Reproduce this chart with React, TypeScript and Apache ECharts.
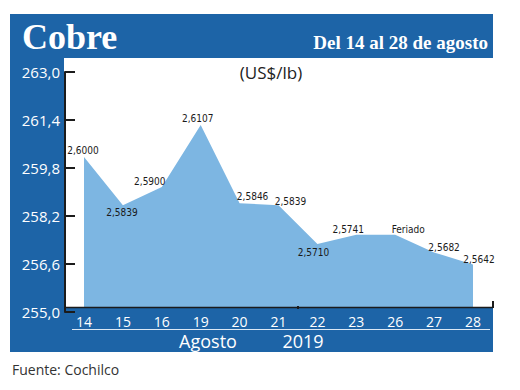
import React, { useEffect, useRef } from "react";
import * as echarts from "echarts";

const days = ["14", "15", "16", "19", "20", "21", "22", "23", "26", "27", "28"];
const prices = [260.0, 258.39, 259.0, 261.07, 258.46, 258.39, 257.1, 257.41, 257.41, 256.82, 256.42];
const notes = [null, null, null, null, null, null, null, null, "Feriado", null, null];
const yMin = 255.0;
const yMax = 263.0;
const yStep = 1.6;
const monthLabel = "Agosto";
const yearLabel = "2019";

// label placement (style only): offset of label centre from its point
const labelOffsets = [
  [-1, -7], [-1, 7], [-12, -6], [-3, -6], [13, -7], [12, -4],
  [-4, 8], [-8, -5], [13, -5], [10, -5], [6, -5],
];

const BLUE = "#1d64a7";
const AREA = "#7db6e2";
const SANS = "'Open Sans', 'Noto Sans', sans-serif";
const NARROW = "'Liberation Sans Narrow', 'DejaVu Sans Condensed', sans-serif";
const SERIF = "'Liberation Serif', serif";

export default function App() {
  const ref = useRef<HTMLDivElement>(null);
  useEffect(() => {
    if (!ref.current) return;
    const chart = echarts.init(ref.current, null, { renderer: "svg" });
    const fmt = (v: number) => v.toFixed(1).replace(".", ",");
    const seriesData = prices.map((p, i) => ({
      value: p,
      label: {
        formatter: notes[i] ?? (p / 100).toFixed(4).replace(".", ","),
        offset: labelOffsets[i],
      },
    }));
    chart.setOption({
      animation: false,
      backgroundColor: "#ffffff",
      grid: [
        { left: 84, right: 47, top: 67, bottom: 83 },
        { left: 65, right: 27, top: 72, bottom: 78 },
      ],
      xAxis: [
        {
          type: "category",
          gridIndex: 0,
          data: days,
          boundaryGap: false,
          axisLine: { show: false },
          axisTick: { show: false },
          axisLabel: { color: "#ffffff", fontFamily: SANS, fontSize: 14, margin: 7 },
          splitLine: { show: false },
        },
        { type: "value", gridIndex: 1, show: false },
      ],
      yAxis: [
        { type: "value", gridIndex: 0, min: yMin, max: yMax, show: false },
        {
          type: "value",
          gridIndex: 1,
          min: 0,
          max: yMax - yMin,
          interval: yStep,
          axisLine: { show: true, lineStyle: { color: "#1b1b1b", width: 2 } },
          axisTick: { show: true, inside: true, length: 10, lineStyle: { color: "#1b1b1b", width: 2 } },
          axisLabel: {
            color: "#ffffff",
            fontFamily: SANS,
            fontSize: 15,
            margin: 5,
            formatter: (v: number) => fmt(v + yMin),
          },
          splitLine: { show: false },
        },
      ],
      series: [
        {
          type: "line",
          xAxisIndex: 0,
          yAxisIndex: 0,
          data: seriesData,
          symbol: "circle",
          symbolSize: 1,
          showSymbol: true,
          itemStyle: { color: "rgba(0,0,0,0)", borderWidth: 0 },
          lineStyle: { width: 0, color: AREA },
          areaStyle: { color: AREA, opacity: 1 },
          label: {
            show: true,
            position: "inside",
            color: "#1a1a1a",
            fontFamily: NARROW,
            fontSize: 10,
          },
          z: 2,
        },
      ],
      graphic: [
        { type: "rect", z: -10, shape: { x: 10, y: 14, width: 483, height: 44 }, style: { fill: BLUE } },
        { type: "rect", z: -10, shape: { x: 10, y: 58, width: 54, height: 294 }, style: { fill: BLUE } },
        { type: "rect", z: -10, shape: { x: 10, y: 308, width: 483, height: 44 }, style: { fill: BLUE } },
        { type: "line", z: 50, shape: { x1: 72, y1: 329.5, x2: 490, y2: 329.5 }, style: { stroke: "#dbe8f5", lineWidth: 1.2 } },
        { type: "line", z: 50, shape: { x1: 65, y1: 307.5, x2: 493, y2: 307.5 }, style: { stroke: "#1b1b1b", lineWidth: 1.5 } },
        { type: "line", z: 50, shape: { x1: 493, y1: 301, x2: 493, y2: 308 }, style: { stroke: "#1b1b1b", lineWidth: 2 } },
        { type: "line", z: 50, shape: { x1: 298, y1: 306, x2: 298, y2: 309 }, style: { stroke: "#1b1b1b", lineWidth: 2 } },
        {
          type: "text", z: 50, x: 22, y: 37,
          style: { text: "Cobre", fill: "#ffffff", font: `bold 36px ${SERIF}`, verticalAlign: "middle", align: "left" },
        },
        {
          type: "text", z: 50, x: 488, y: 42,
          style: { text: "Del 14 al 28 de agosto", fill: "#ffffff", font: `bold 19px ${SERIF}`, verticalAlign: "middle", align: "right" },
        },
        {
          type: "text", z: 50, x: 271, y: 72,
          style: { text: "(US$/lb)", fill: "#222222", font: `17px ${SANS}`, verticalAlign: "middle", align: "center" },
        },
        {
          type: "text", z: 50, x: 208, y: 341,
          style: { text: monthLabel, fill: "#ffffff", font: `18px ${SANS}`, verticalAlign: "middle", align: "center" },
        },
        {
          type: "text", z: 50, x: 303, y: 341,
          style: { text: yearLabel, fill: "#ffffff", font: `18px ${SANS}`, verticalAlign: "middle", align: "center" },
        },
        {
          type: "text", z: 50, x: 12, y: 369,
          style: { text: "Fuente: Cochilco", fill: "#333333", font: `14px ${SANS}`, verticalAlign: "middle", align: "left" },
        },
      ],
    });
    return () => chart.dispose();
  }, []);
  return <div ref={ref} style={{ position: "absolute", left: 0, top: 0, width: 520, height: 390 }} />;
}
